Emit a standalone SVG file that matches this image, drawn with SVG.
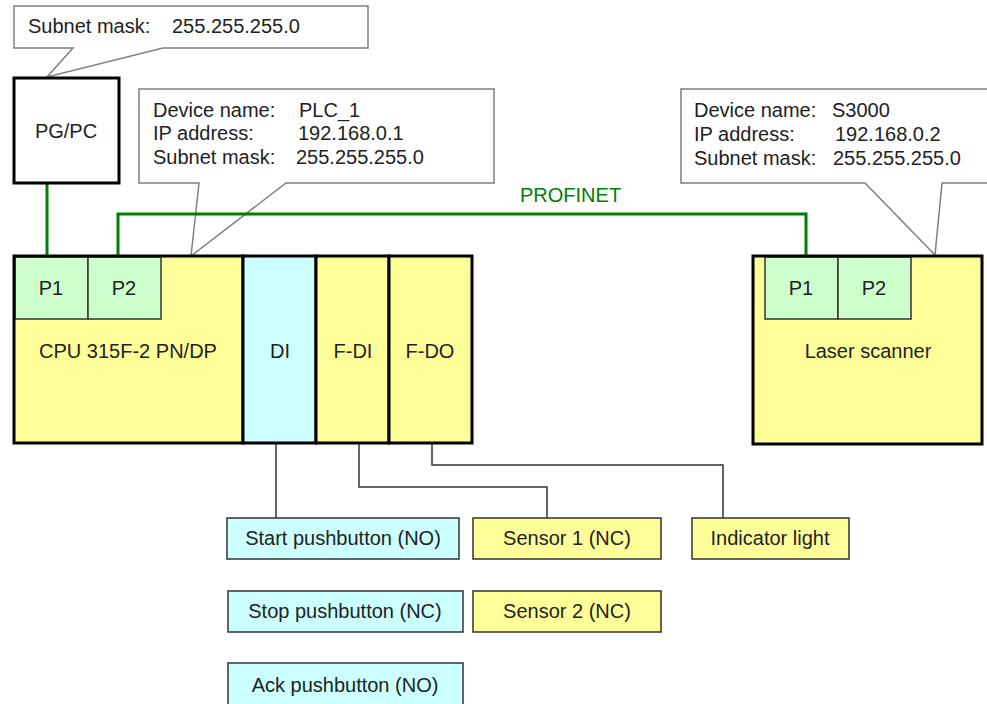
<svg xmlns="http://www.w3.org/2000/svg" width="987" height="704" viewBox="0 0 987 704">
<style>
text{font-family:"Liberation Sans",Arial,sans-serif;font-size:20px;fill:#222}
.c{text-anchor:middle}
.call{fill:#fff;stroke:#808080;stroke-width:1.5;stroke-linejoin:miter}
.thick{fill:none;stroke:#000;stroke-width:3}
.y{fill:#ffff99}
.b{fill:#ccffff}
.g{fill:#ccffcc;stroke:#333;stroke-width:1.5}
.box{stroke:#333;stroke-width:1.5}
.net{fill:none;stroke:#008000;stroke-width:3}
.wire{fill:none;stroke:#333;stroke-width:1.5}
.pn{fill:#008000}
</style>
<rect width="987" height="704" fill="#fff"/>
<g id="callout-pg">
<path class="call" d="M14,6 H368 V48 H163 L47,77 L73,48 H14 Z"/>
<text x="28" y="33">Subnet mask:</text><text x="172" y="33">255.255.255.0</text>
</g>
<g id="callout-plc">
<path class="call" d="M139,89 H494 V183 H286 L191,256 L199,183 H139 Z"/>
<text x="153" y="117">Device name:</text><text x="299" y="117">PLC_1</text>
<text x="153" y="140">IP address:</text><text x="298" y="140">192.168.0.1</text>
<text x="153" y="164">Subnet mask:</text><text x="296" y="164">255.255.255.0</text>
</g>
<g id="callout-scanner">
<path class="call" d="M681,89 H1000 V183 H942 L935,255 L865,183 H681 Z"/>
<text x="694" y="117">Device name:</text><text x="832" y="117">S3000</text>
<text x="694" y="141">IP address:</text><text x="835" y="141">192.168.0.2</text>
<text x="694" y="165">Subnet mask:</text><text x="833" y="165">255.255.255.0</text>
</g>
<g id="connectors">
<path class="net" d="M47,183 V256"/>
<path class="net" d="M118,256 V214 H806 V256"/>
<text class="pn" x="520" y="202">PROFINET</text>
<path class="wire" d="M276,443 V518"/>
<path class="wire" d="M359,443 V487 H547 V518"/>
<path class="wire" d="M432,443 V465 H723 V518"/>
</g>
<g id="pgpc">
<rect x="14" y="78" width="105" height="105" fill="#fff" stroke="#000" stroke-width="3"/>
<text class="c" x="66" y="138">PG/PC</text>
</g>
<g id="cpu">
<rect class="y" x="14" y="256" width="229" height="187"/>
<rect class="g" x="15" y="257" width="73" height="62"/>
<rect class="g" x="88" y="257" width="73" height="62"/>
<rect class="thick" x="14" y="256" width="229" height="187"/>
<text class="c" x="51" y="295">P1</text>
<text class="c" x="124" y="295">P2</text>
<text class="c" x="128" y="358">CPU 315F-2 PN/DP</text>
</g>
<g id="di">
<rect class="b" x="243" y="256" width="73" height="187"/>
<rect class="thick" x="243" y="256" width="73" height="187"/>
<text class="c" x="280" y="358">DI</text>
</g>
<g id="fdi">
<rect class="y" x="316" y="256" width="73" height="187"/>
<rect class="thick" x="316" y="256" width="73" height="187"/>
<text class="c" x="353" y="358">F-DI</text>
</g>
<g id="fdo">
<rect class="y" x="389" y="256" width="83" height="187"/>
<rect class="thick" x="389" y="256" width="83" height="187"/>
<text class="c" x="430" y="358">F-DO</text>
</g>
<g id="scanner">
<rect class="y" x="753" y="256" width="229" height="188"/>
<rect class="g" x="765" y="257" width="73" height="62"/>
<rect class="g" x="838" y="257" width="73" height="62"/>
<rect class="thick" x="753" y="256" width="229" height="188"/>
<text class="c" x="801" y="295">P1</text>
<text class="c" x="874" y="295">P2</text>
<text class="c" x="868" y="358">Laser scanner</text>
</g>
<g id="start">
<rect class="b box" x="227" y="518" width="232" height="41"/>
<text class="c" x="343" y="545">Start pushbutton (NO)</text>
</g>
<g id="stop">
<rect class="b box" x="228" y="591" width="235" height="41"/>
<text class="c" x="345" y="618">Stop pushbutton (NC)</text>
</g>
<g id="ack">
<rect class="b box" x="228" y="663" width="235" height="50"/>
<text class="c" x="345" y="692">Ack pushbutton (NO)</text>
</g>
<g id="sensor1">
<rect class="y box" x="473" y="518" width="188" height="41"/>
<text class="c" x="567" y="545">Sensor 1 (NC)</text>
</g>
<g id="sensor2">
<rect class="y box" x="473" y="591" width="188" height="41"/>
<text class="c" x="567" y="618">Sensor 2 (NC)</text>
</g>
<g id="indicator">
<rect class="y box" x="692" y="518" width="157" height="41"/>
<text class="c" x="770" y="545">Indicator light</text>
</g>
</svg>
